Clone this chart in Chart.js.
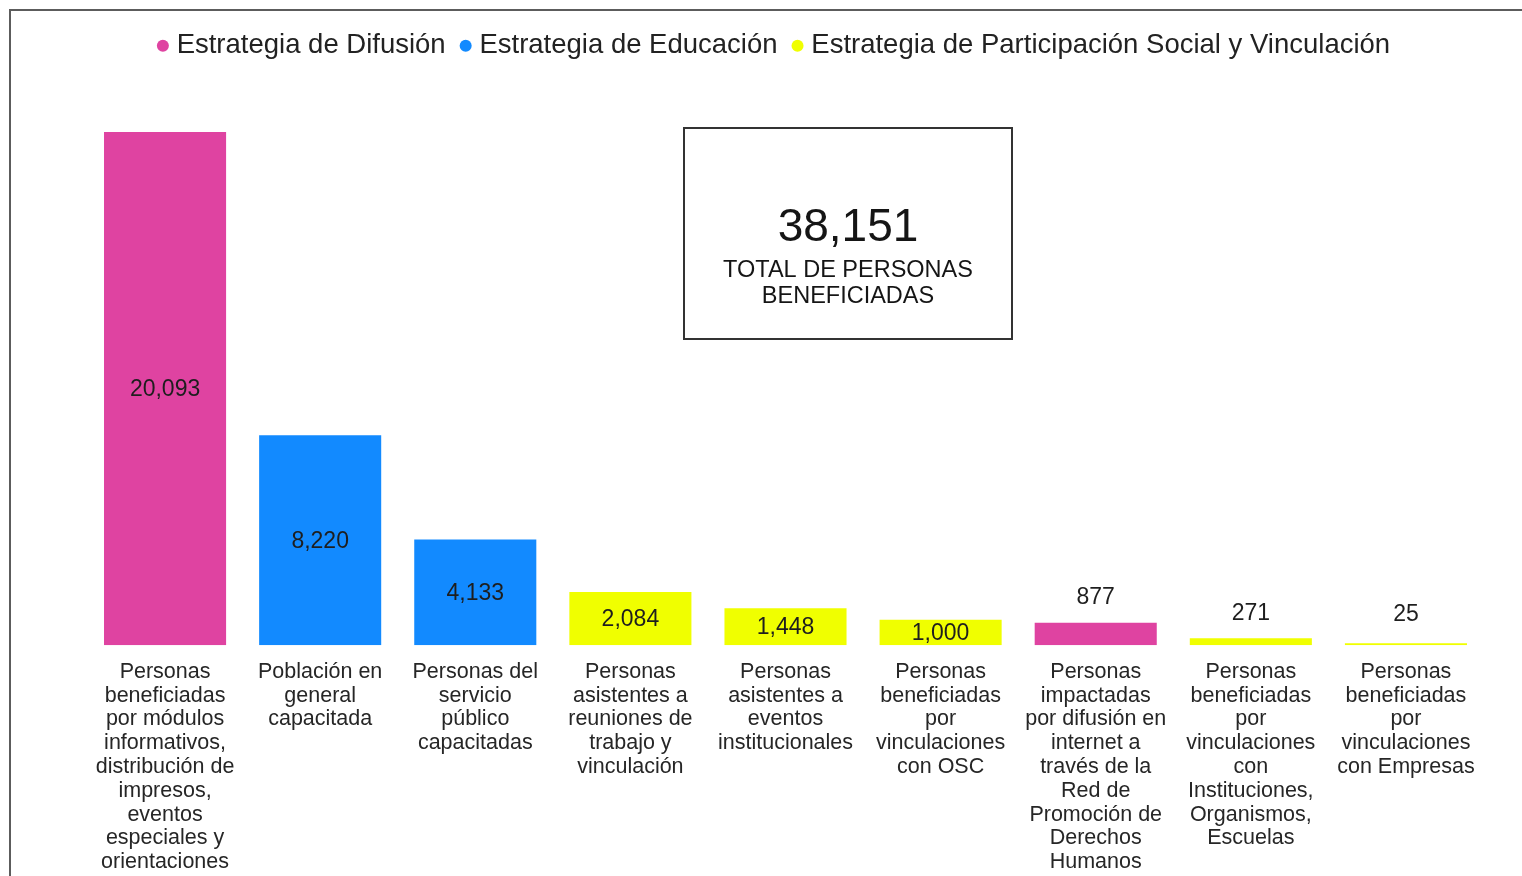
<!DOCTYPE html>
<html lang="es">
<head>
<meta charset="utf-8">
<title>Personas beneficiadas por estrategia</title>
<script src="https://cdn.jsdelivr.net/npm/chart.js@4.4.1/dist/chart.umd.min.js"></script>
<style>
    html, body { margin: 0; padding: 0; background: #fff; overflow: hidden; }
    .frame {
        position: absolute; left: 9px; top: 9px; width: 1600px; height: 1000px;
        border-top: 2px solid #5c5c5c; border-left: 2px solid #5c5c5c;
    }
    /* taller than the window: the page is cut just under the last label line */
    .chart-wrap { position: absolute; left: 0; top: 0; width: 1522px; height: 892px; }
</style>
</head>
<body>
<div class="frame"></div>
<div class="chart-wrap"><canvas id="myChart"></canvas></div>
<script>
const categories = [
    ["Personas", "beneficiadas", "por módulos", "informativos,", "distribución de", "impresos,", "eventos", "especiales y", "orientaciones"],
    ["Población en", "general", "capacitada"],
    ["Personas del", "servicio", "público", "capacitadas"],
    ["Personas", "asistentes a", "reuniones de", "trabajo y", "vinculación"],
    ["Personas", "asistentes a", "eventos", "institucionales"],
    ["Personas", "beneficiadas", "por", "vinculaciones", "con OSC"],
    ["Personas", "impactadas", "por difusión en", "internet a", "través de la", "Red de", "Promoción de", "Derechos", "Humanos"],
    ["Personas", "beneficiadas", "por", "vinculaciones", "con", "Instituciones,", "Organismos,", "Escuelas"],
    ["Personas", "beneficiadas", "por", "vinculaciones", "con Empresas"],
];
const values = [20093, 8220, 4133, 2084, 1448, 1000, 877, 271, 25];
// which strategy each category belongs to (index into strategies)
const strategyOf = [0, 1, 1, 2, 2, 2, 0, 2, 2];
const strategies = ["Estrategia de Difusión", "Estrategia de Educación", "Estrategia de Participación Social y Vinculación"];
const strategyColors = ["#DF43A1", "#128AFF", "#F0FF00"];

const total = values.reduce((a, b) => a + b, 0);
const FONT = '"Liberation Sans", Arial, sans-serif';

// one dataset per strategy, null where the category belongs to another one
const datasets = strategies.map((name, s) => ({
    label: name,
    data: values.map((v, i) => (strategyOf[i] === s ? v : null)),
    backgroundColor: strategyColors[s],
    borderWidth: 0,
}));

const valueLabels = {
    id: "valueLabels",
    afterDatasetsDraw(chart) {
        const ctx = chart.ctx;
        const base = chart.scales.y.getPixelForValue(0);
        ctx.save();
        ctx.font = "23px " + FONT;
        ctx.fillStyle = "#1e1e1e";
        ctx.textAlign = "center";
        ctx.textBaseline = "middle";
        chart.data.datasets.forEach((ds, d) => {
            chart.getDatasetMeta(d).data.forEach((bar, i) => {
                if (ds.data[i] == null) return;
                const h = base - bar.y;
                // tall bars get the number inside, short ones above
                const y = h >= 24 ? bar.y + h / 2 : Math.min(bar.y - 26, base - 32);
                ctx.fillText(ds.data[i].toLocaleString("en-US"), bar.x, y + 1);
            });
        });
        ctx.restore();
    },
};

// legend is centred on the whole page, not on the plot area
const legendShift = {
    id: "legendShift",
    afterLayout(chart) {
        chart.legend.left -= 9;
        chart.legend.right -= 9;
    },
};

const totalBox = {
    id: "totalBox",
    afterDraw(chart) {
        const ctx = chart.ctx;
        const x = 684, y = 128, w = 328, h = 211;
        ctx.save();
        ctx.strokeStyle = "#333";
        ctx.lineWidth = 2;
        ctx.strokeRect(x, y, w, h);
        ctx.fillStyle = "#151515";
        ctx.textAlign = "center";
        ctx.textBaseline = "middle";
        ctx.font = "46px " + FONT;
        ctx.fillText(total.toLocaleString("en-US"), x + w / 2, 228.5);
        ctx.font = "23.5px " + FONT;
        ctx.fillText("TOTAL DE PERSONAS", x + w / 2, 271);
        ctx.fillText("BENEFICIADAS", x + w / 2, 297);
        ctx.restore();
    },
};

const ctx = document.getElementById("myChart").getContext("2d");
const myChart = new Chart(ctx, {
    type: "bar",
    data: {
        labels: categories,
        datasets: datasets,
    },
    plugins: [valueLabels, legendShift, totalBox],
    options: {
        responsive: true,
        maintainAspectRatio: false,
        animation: false,
        layout: {
            padding: { left: 87.5, right: 38.5, top: 12, bottom: 3 },
        },
        datasets: {
            bar: {
                grouped: false,
                categoryPercentage: 1,
                barPercentage: 0.787,
                minBarLength: 2,
            },
        },
        plugins: {
            legend: {
                position: "top",
                labels: {
                    usePointStyle: true,
                    pointStyle: "circle",
                    boxWidth: 0.01,
                    boxHeight: 8.5,
                    padding: 20,
                    color: "#222",
                    font: { family: FONT, size: 27.5 },
                },
            },
            tooltip: { enabled: false },
        },
        scales: {
            x: {
                grid: { display: false, drawTicks: false },
                border: { display: false },
                ticks: {
                    padding: 15,
                    autoSkip: false,
                    maxRotation: 0,
                    color: "#262626",
                    font: { family: FONT, size: 21.5, lineHeight: 1.105 },
                },
            },
            y: {
                display: false,
                beginAtZero: true,
                max: 22540,
            },
        },
    },
});
</script>
</body>
</html>
